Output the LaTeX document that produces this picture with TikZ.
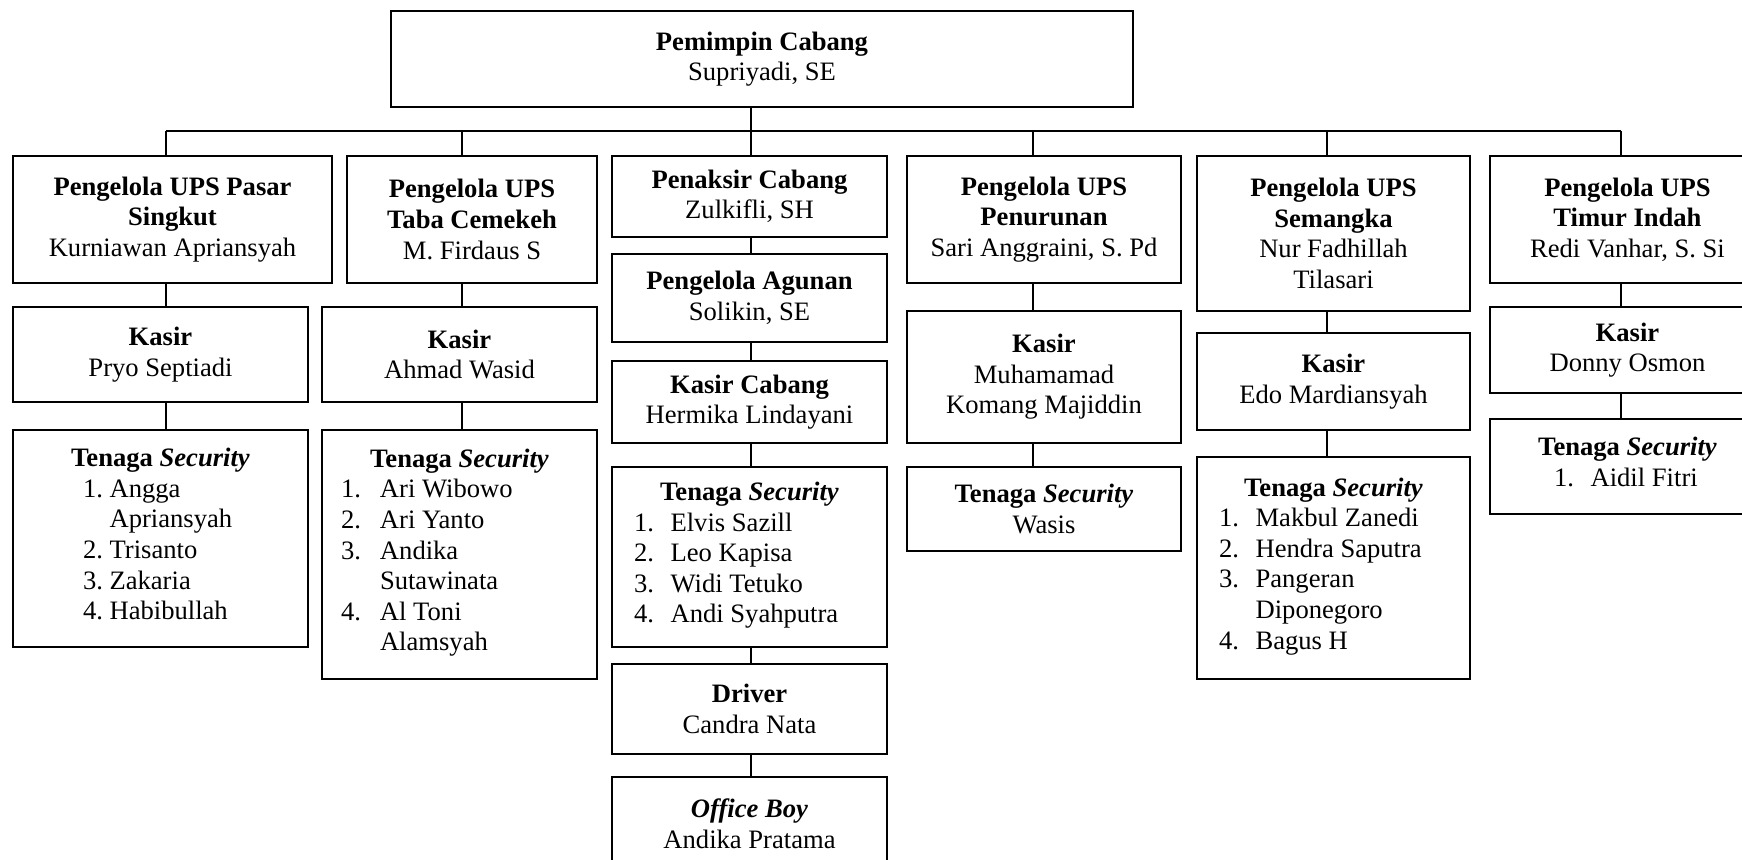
\documentclass[tikz,border=0pt]{standalone}
\usepackage{fontspec}
\setmainfont{Liberation Serif}
\usetikzlibrary{positioning}

\begin{document}
\begin{tikzpicture}[
    x=0.5pt, y=-0.5pt,
    orgbox/.style={draw, line width=0.8pt, align=center, inner sep=2pt, font=\fontsize{13.3}{15.3}\selectfont},
    orgsize/.style 2 args={orgbox, minimum width=#1*0.5pt, minimum height=#2*0.5pt},
    link/.style={line width=0.8pt}
  ]
    \useasboundingbox (0,0) rectangle (1742,859);

    \node[orgsize={742}{96}] (pc) at (762,59) {\textbf{Pemimpin Cabang}\\Supriyadi, SE};

    \coordinate (b1) at (166,131);
    \coordinate (b2) at (462,131);
    \coordinate (b3) at (751,131);
    \coordinate (b4) at (1033,131);
    \coordinate (b5) at (1327,131);
    \coordinate (b6) at (1621,131);

    % UPS Pasar Singkut
    \node[orgsize={319}{127}] (u1) at (172.5,219.5) {\textbf{Pengelola UPS Pasar}\\\textbf{Singkut}\\Kurniawan Apriansyah};
    \node[orgsize={295}{95}] (k1) at (160.5,354.5) {\textbf{Kasir}\\Pryo Septiadi};
    \node[orgsize={295}{217}] (s1) at (160.5,538.5) {\textbf{Tenaga \textit{Security}}\\
      \makebox[77.5pt][l]{\begin{tabular}[t]{@{}p{13.3pt}@{}l@{}}1. & Angga\\ & Apriansyah\\ 2. & Trisanto\\ 3. & Zakaria\\ 4. & Habibullah\end{tabular}}};

    % UPS Taba Cemekeh
    \node[orgsize={250}{127}] (u2) at (472,219.5) {\textbf{Pengelola UPS}\\\textbf{Taba Cemekeh}\\M. Firdaus S};
    \node[orgsize={275}{95}] (k2) at (459.5,354.5) {\textbf{Kasir}\\Ahmad Wasid};
    \node[orgsize={275}{249}] (s2) at (459.5,554.5) {\textbf{Tenaga \textit{Security}}\\
      \makebox[118.5pt][l]{\begin{tabular}[t]{@{}p{19.5pt}@{}l@{}}1. & Ari Wibowo\\ 2. & Ari Yanto\\ 3. & Andika\\ & Sutawinata\\ 4. & Al Toni\\ & Alamsyah\end{tabular}}};

    % cabang
    \node[orgsize={275}{81}] (p3) at (749.5,196.5) {\textbf{Penaksir Cabang}\\Zulkifli, SH};
    \node[orgsize={275}{88}] (a3) at (749.5,298) {\textbf{Pengelola Agunan}\\Solikin, SE};
    \node[orgsize={275}{82}] (kc3) at (749.5,402) {\textbf{Kasir Cabang}\\Hermika Lindayani};
    \node[orgsize={275}{180}] (s3) at (749.5,557) {\textbf{Tenaga \textit{Security}}\\
      \makebox[115.5pt][l]{\begin{tabular}[t]{@{}p{18.3pt}@{}l@{}}1. & Elvis Sazill\\ 2. & Leo Kapisa\\ 3. & Widi Tetuko\\ 4. & Andi Syahputra\end{tabular}}};
    \node[orgsize={275}{90}] (d3) at (749.5,709) {\textbf{Driver}\\Candra Nata};
    \node[orgsize={275}{93}] (o3) at (749.5,823.5) {\textbf{\textit{Office Boy}}\\Andika Pratama};

    % UPS Penurunan
    \node[orgsize={274}{127}] (u4) at (1044,219.5) {\textbf{Pengelola UPS}\\\textbf{Penurunan}\\Sari Anggraini, S. Pd};
    \node[orgsize={274}{132}] (k4) at (1044,377) {\textbf{Kasir}\\Muhamamad\\Komang Majiddin};
    \node[orgsize={274}{84}] (s4) at (1044,509) {\textbf{Tenaga \textit{Security}}\\Wasis};

    % UPS Semangka
    \node[orgsize={273}{155}] (u5) at (1333.5,233.5) {\textbf{Pengelola UPS}\\\textbf{Semangka}\\Nur Fadhillah\\Tilasari};
    \node[orgsize={273}{97}] (k5) at (1333.5,381.5) {\textbf{Kasir}\\Edo Mardiansyah};
    \node[orgsize={273}{222}] (s5) at (1333.5,568) {\textbf{Tenaga \textit{Security}}\\
      \makebox[114.5pt][l]{\begin{tabular}[t]{@{}p{18.3pt}@{}l@{}}1. & Makbul Zanedi\\ 2. & Hendra Saputra\\ 3. & Pangeran\\ & Diponegoro\\ 4. & Bagus H\end{tabular}}};

    % UPS Timur Indah
    \node[orgsize={275}{127}] (u6) at (1627.5,219.5) {\textbf{Pengelola UPS}\\\textbf{Timur Indah}\\Redi Vanhar, S. Si};
    \node[orgsize={275}{86}] (k6) at (1627.5,350) {\textbf{Kasir}\\Donny Osmon};
    \node[orgsize={275}{95}] (s6) at (1627.5,466.5) {\textbf{Tenaga \textit{Security}}\\
      \makebox[73.5pt][l]{\begin{tabular}[t]{@{}p{18.3pt}@{}l@{}}1. & Aidil Fitri\end{tabular}}};

    \draw[link] (pc.south -| b3) -- (p3.north -| b3);
    \draw[link] (b1) -- (b6);
    \foreach \b/\n in {b1/u1,b2/u2,b4/u4,b5/u5,b6/u6} {
      \draw[link] (\b) -- (\b |- \n.north);
    }
    \foreach \b/\x/\y in {b1/u1/k1,b1/k1/s1,b2/u2/k2,b2/k2/s2,b3/p3/a3,b3/a3/kc3,b3/kc3/s3,b3/s3/d3,b3/d3/o3,b4/u4/k4,b4/k4/s4,b5/u5/k5,b5/k5/s5,b6/u6/k6,b6/k6/s6} {
      \draw[link] (\b |- \x.south) -- (\b |- \y.north);
    }
  \end{tikzpicture}
\end{document}
